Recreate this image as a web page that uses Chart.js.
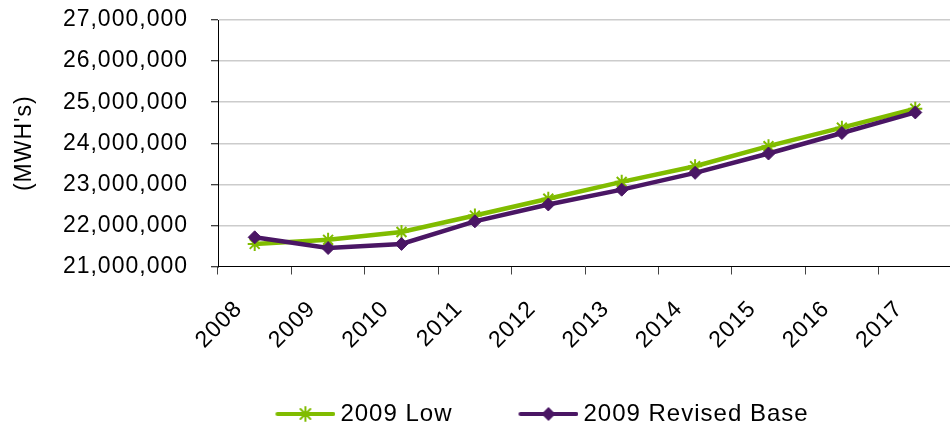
<!DOCTYPE html>
<html>
<head>
<meta charset="utf-8">
<script src="https://cdn.jsdelivr.net/npm/chart.js@4.4.1/dist/chart.umd.min.js"></script>
<style>
  html, body { margin: 0; padding: 0; background: #fff; overflow: hidden; }
  #wrap { width: 961px; height: 430px; }
</style>
</head>
<body>
<div id="wrap"><canvas id="energy" width="961" height="430"></canvas></div>
<script>
// Annual energy forecast, MWh
const years = ['2008', '2009', '2010', '2011', '2012', '2013', '2014', '2015', '2016', '2017'];
const lowForecast = [21550000, 21650000, 21840000, 22240000, 22650000, 23060000, 23440000, 23930000, 24380000, 24840000];
const revisedBase = [21710000, 21450000, 21550000, 22100000, 22510000, 22870000, 23280000, 23750000, 24250000, 24750000];
const yTickValues = [21000000, 22000000, 23000000, 24000000, 25000000, 26000000, 27000000];
const seriesNames = ['2009 Low', '2009 Revised Base'];

const GREEN = '#80BC00';
const PURPLE = '#4A1664';
const FONT = "'Liberation Sans', Arial, sans-serif";
const LEGEND_BOX = 109;

// legend swatch: a short line segment with the series marker in its middle
function makeSwatch(color, kind) {
  const c = document.createElement('canvas');
  c.width = LEGEND_BOX + 14;
  c.height = 22;
  const g = c.getContext('2d');
  const right = c.width, left = right - 60, mid = (left + right) / 2, y = 11;
  g.strokeStyle = color;
  g.fillStyle = color;
  g.lineCap = 'round';
  g.lineWidth = 4;
  g.beginPath();
  g.moveTo(left + 2, y);
  g.lineTo(right - 2, y);
  g.stroke();
  g.beginPath();
  if (kind === 'star') {
    const r = 7;
    g.lineWidth = 2;
    for (let k = 0; k < 4; k++) {
      const a = k * Math.PI / 4;
      g.moveTo(mid - r * Math.cos(a), y - r * Math.sin(a));
      g.lineTo(mid + r * Math.cos(a), y + r * Math.sin(a));
    }
    g.stroke();
  } else {
    const r = 7;
    g.moveTo(mid - r, y);
    g.lineTo(mid, y - r);
    g.lineTo(mid + r, y);
    g.lineTo(mid, y + r);
    g.closePath();
    g.fill();
  }
  return c;
}
const swatches = [makeSwatch(GREEN, 'star'), makeSwatch(PURPLE, 'diamond')];

// slightly looser glyph spacing for all chart text
const textSpacing = {
  id: 'textSpacing',
  beforeUpdate(chart) { chart.ctx.letterSpacing = '1px'; },
  beforeDraw(chart) { chart.ctx.letterSpacing = '1px'; }
};

// move the legend row a little right and down under the plot
const legendNudge = {
  id: 'legendNudge',
  afterLayout(chart) {
    const lg = chart.legend;
    if (!lg) return;
    lg.left += 35; lg.right += 35;
    lg.top += 6; lg.bottom += 6;
  }
};

new Chart(document.getElementById('energy'), {
  type: 'line',
  data: {
    labels: years,
    datasets: [
      {
        label: seriesNames[0],
        data: lowForecast,
        borderColor: GREEN,
        backgroundColor: GREEN,
        borderWidth: 4.5,
        pointStyle: 'star',
        pointRadius: 7,
        pointBorderWidth: 2,
        pointBorderColor: GREEN,
        pointBackgroundColor: GREEN,
        tension: 0,
        order: 2
      },
      {
        label: seriesNames[1],
        data: revisedBase,
        borderColor: PURPLE,
        backgroundColor: PURPLE,
        borderWidth: 4.5,
        pointStyle: 'rectRot',
        pointRadius: 6.5,
        pointBorderWidth: 1,
        pointBorderColor: PURPLE,
        pointBackgroundColor: PURPLE,
        tension: 0,
        order: 1
      }
    ]
  },
  options: {
    responsive: false,
    animation: false,
    devicePixelRatio: 1,
    layout: { padding: { top: 20, right: 3, bottom: 0, left: 0 } },
    plugins: {
      tooltip: { enabled: false },
      legend: {
        position: 'bottom',
        labels: {
          usePointStyle: true,
          pointStyleWidth: LEGEND_BOX,
          padding: 10,
          color: '#000',
          font: { family: FONT, size: 24 },
          generateLabels: (chart) => chart.data.datasets.map((ds, i) => ({
            text: ds.label,
            pointStyle: swatches[i],
            fillStyle: ds.borderColor,
            strokeStyle: ds.borderColor,
            lineWidth: 0,
            hidden: false,
            datasetIndex: i
          }))
        }
      }
    },
    scales: {
      x: {
        offset: true,
        grid: {
          offset: true,
          drawOnChartArea: false,
          drawTicks: true,
          tickLength: 8,
          tickColor: '#444',
          tickWidth: 1
        },
        border: { color: '#000', width: 1 },
        ticks: {
          autoSkip: false,
          minRotation: 45,
          maxRotation: 45,
          labelOffset: -16,
          padding: 21,
          color: '#000',
          font: { family: FONT, size: 23 }
        },
        afterFit: (s) => {
          s.height = 119.5;
          s.paddingLeft = 0;
          s.paddingRight = 0;
        }
      },
      y: {
        min: yTickValues[0],
        max: yTickValues[yTickValues.length - 1],
        afterBuildTicks: (s) => { s.ticks = yTickValues.map(v => ({ value: v })); },
        grid: {
          color: (ctx) => (ctx.tick && ctx.tick.value === yTickValues[0]) ? 'rgba(0,0,0,0)' : '#CCCCCC',
          lineWidth: 1.5,
          tickColor: '#000',
          tickWidth: 1,
          tickLength: 7
        },
        border: { color: '#000', width: 1 },
        ticks: {
          padding: 23,
          color: '#000',
          font: { family: FONT, size: 23 },
          callback: (v) => Number(v).toLocaleString('en-US')
        },
        title: {
          display: true,
          text: "(MWH's)",
          color: '#000',
          font: { family: FONT, size: 23 },
          padding: { top: 11, bottom: 0 }
        },
        afterFit: (s) => {
          s.width = 218;
          s.paddingTop = 0;
          s.paddingBottom = 0;
        }
      }
    }
  },
  plugins: [textSpacing, legendNudge]
});
</script>
</body>
</html>
